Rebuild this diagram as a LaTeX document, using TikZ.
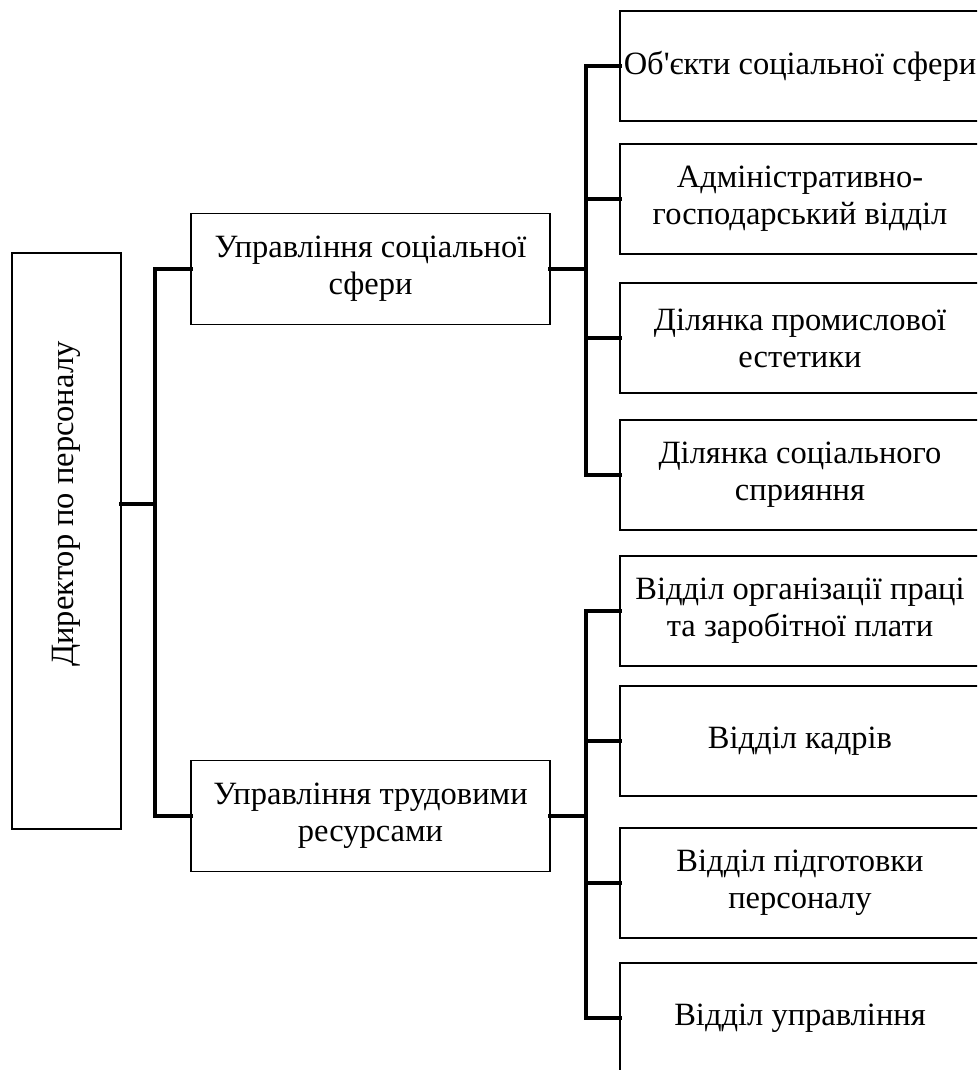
\documentclass[tikz,border=0pt]{standalone}
\usepackage{fontspec}
\setmainfont{Liberation Serif}
\usetikzlibrary{positioning}
\tikzset{
	unit/.style={draw, line width=0.9pt, align=center, inner sep=2pt,
		font=\fontsize{18.5}{21}\selectfont},
	midunit/.style={unit, minimum width=7.18cm, minimum height=2.22cm},
	subunit/.style={unit, minimum width=7.2cm, minimum height=2.2cm},
	link/.style={line width=2.8pt, line cap=rect}
}
\begin{document}
\begin{tikzpicture}[x=0.02cm, y=-0.02cm]
				\clip (0,0) rectangle (977,1070);
				\useasboundingbox (0,0) rectangle (977,1070);
				% director
				\node[draw, line width=0.9pt, minimum width=2.18cm, minimum height=11.52cm] (dir) at(66.5, 541){};
				\node[rotate=90, font=\fontsize{18.5}{21}\selectfont] (dirtext) at(66.5, 504){Директор по персоналу};
				% departments
				\node[midunit] (soc) at(370.5, 269){Управління соціальної\\сфери};
				\node[midunit] (lab) at(370.5, 816){Управління трудовими\\ресурсами};
				% sections
				\node[subunit] (s1) at(800, 66){Об\textquotesingle єкти соціальної сфери};
				\node[subunit] (s2) at(800, 199){Адміністративно-\\господарський відділ};
				\node[subunit] (s3) at(800, 338){Ділянка промислової\\естетики};
				\node[subunit] (s4) at(800, 475){Ділянка соціального\\сприяння};
				\node[subunit] (s5) at(800, 611){Відділ організації праці\\та заробітної плати};
				\node[subunit] (s6) at(800, 741){Відділ кадрів};
				\node[subunit] (s7) at(800, 883){Відділ підготовки\\персоналу};
				\node[subunit] (s8) at(800, 1018){Відділ управління};
				% trunks
				\coordinate (ltrunk) at(155, 0);
				\coordinate (rtrunk) at(586, 0);
				\draw[link] (dirtext -| dir.east) -- (dirtext -| ltrunk);
				\draw[link] (soc.west) -- (soc.west -| ltrunk) -- (lab.west -| ltrunk) -- (lab.west);
				\draw[link] (soc.east) -- (soc.east -| rtrunk);
				\draw[link] (lab.east) -- (lab.east -| rtrunk);
				\draw[link] (s1.west -| rtrunk) -- (s4.west -| rtrunk);
				\draw[link] (s5.west -| rtrunk) -- (s8.west -| rtrunk);
				\foreach \i in {1,...,8}{
					\draw[link] (s\i.west -| rtrunk) -- (s\i.west);
				}
			\end{tikzpicture}
\end{document}
